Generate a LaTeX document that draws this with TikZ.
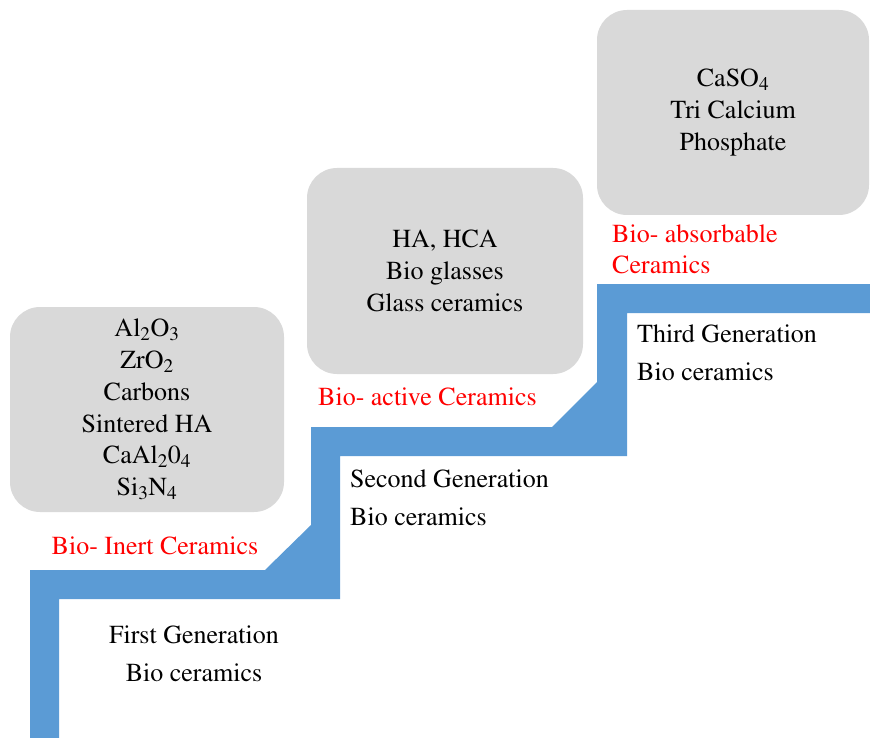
\documentclass[tikz,border=0pt]{standalone}
\usepackage[T1]{fontenc}
\usepackage{mathptmx}
\definecolor{stairblue}{HTML}{5B9BD5}
\definecolor{boxgray}{HTML}{D9D9D9}
\begin{document}
\begin{tikzpicture}[x=1pt,y=-1pt,
  grayblock/.style={draw=none,fill=boxgray,rounded corners=30pt,inner sep=0pt,align=center,font=\fontsize{26}{31.8}\selectfont},
  redlabel/.style={text=red,inner sep=0pt,font=\fontsize{26}{31}\selectfont},
  genlabel/.style={inner sep=0pt,font=\fontsize{26}{38}\selectfont}]
\useasboundingbox (0,0) rectangle (870,738);
\fill[stairblue] (30,738) -- (30,570) -- (265,570) -- (311,525) -- (311,427) -- (552,427) -- (597,382) -- (597,284) -- (870,284) -- (870,313) -- (627,313) -- (627,456) -- (340,456) -- (340,599) -- (59,599) -- (59,738) -- cycle;
\node[grayblock, minimum width=274pt, minimum height=205pt] (inert) at (147,409.5)
  {Al\textsubscript{2}O\textsubscript{3}\\ZrO\textsubscript{2}\\Carbons\\Sintered HA\\CaAl\textsubscript{2}0\textsubscript{4}\\Si\textsubscript{3}N\textsubscript{4}};
\node[grayblock, minimum width=276pt, minimum height=206pt] (active) at (445,271)
  {HA, HCA\\Bio glasses\\Glass ceramics};
\node[grayblock, minimum width=272pt, minimum height=205pt] (absorb) at (733,112.5)
  {CaSO\textsubscript{4}\\Tri Calcium\\Phosphate};
\node[redlabel] (inertlabel) at (155,546) {Bio- Inert Ceramics};
\node[redlabel, anchor=west] (activelabel) at (318,397) {Bio- active Ceramics};
\node[redlabel, anchor=west, align=left] (absorblabel) at (612,249.5) {Bio- absorbable\\Ceramics};
\node[genlabel, align=center] (gen1) at (194,653.5) {First Generation\\Bio ceramics};
\node[genlabel, anchor=west, align=left] (gen2) at (350,497.5) {Second Generation\\Bio ceramics};
\node[genlabel, anchor=west, align=left] (gen3) at (637,352.5) {Third Generation\\Bio ceramics};
\end{tikzpicture}
\end{document}
